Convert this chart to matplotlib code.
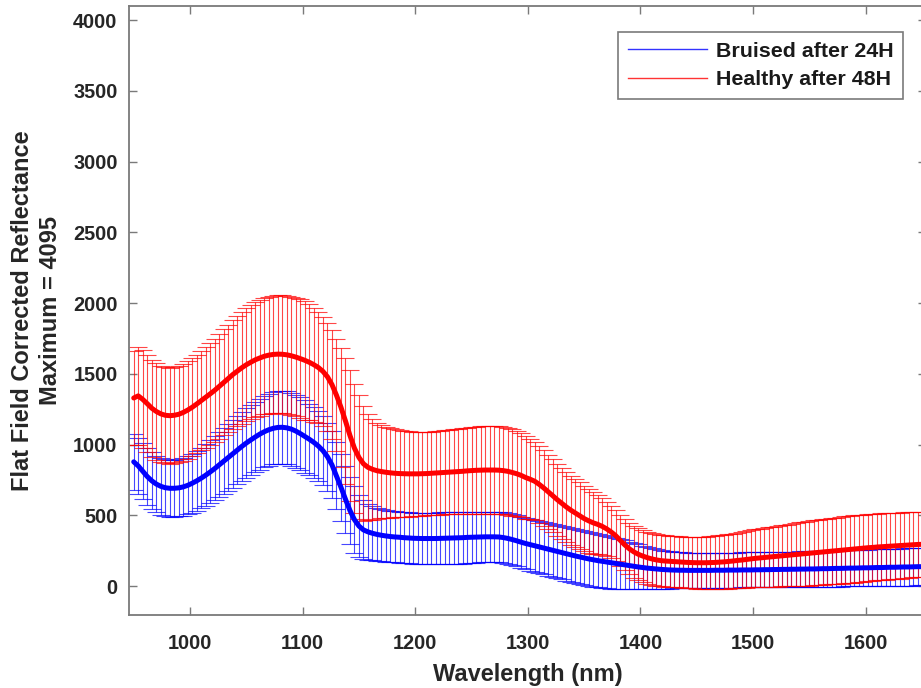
import matplotlib
matplotlib.use("Agg")
import matplotlib.pyplot as plt
from matplotlib.lines import Line2D
import numpy as np

plt.rcParams['font.family'] = ['Liberation Sans', 'DejaVu Sans']
plt.rcParams['font.weight'] = 'bold'

# wavelength bands (nm)
wavelength = [
    950, 954, 958, 962, 966, 970, 974, 978, 982, 986, 990, 994, 998, 1002, 1006, 1010,
    1014, 1018, 1022, 1026, 1030, 1034, 1038, 1042, 1046, 1050, 1054, 1058, 1062, 1066, 1070, 1074,
    1078, 1082, 1086, 1090, 1094, 1098, 1102, 1106, 1110, 1114, 1118, 1122, 1126, 1130, 1134, 1138,
    1142, 1146, 1150, 1154, 1158, 1162, 1166, 1170, 1174, 1178, 1182, 1186, 1190, 1194, 1198, 1202,
    1206, 1210, 1214, 1218, 1222, 1226, 1230, 1234, 1238, 1242, 1246, 1250, 1254, 1258, 1262, 1266,
    1270, 1274, 1278, 1282, 1286, 1290, 1294, 1298, 1302, 1306, 1310, 1314, 1318, 1322, 1326, 1330,
    1334, 1338, 1342, 1346, 1350, 1354, 1358, 1362, 1366, 1370, 1374, 1378, 1382, 1386, 1390, 1394,
    1398, 1402, 1406, 1410, 1414, 1418, 1422, 1426, 1430, 1434, 1438, 1442, 1446, 1450, 1454, 1458,
    1462, 1466, 1470, 1474, 1478, 1482, 1486, 1490, 1494, 1498, 1502, 1506, 1510, 1514, 1518, 1522,
    1526, 1530, 1534, 1538, 1542, 1546, 1550, 1554, 1558, 1562, 1566, 1570, 1574, 1578, 1582, 1586,
    1590, 1594, 1598, 1602, 1606, 1610, 1614, 1618, 1622, 1626, 1630, 1634, 1638, 1642, 1646, 1650]

# bruised after 24H: mean and standard deviation
bruised_mean = [
    879, 850, 812, 775, 745, 722, 706, 696, 692, 692, 695, 702, 713, 728, 745, 764,
    785, 808, 832, 858, 884, 910, 936, 962, 988, 1012, 1034, 1055, 1075, 1092, 1106, 1116,
    1122, 1123, 1119, 1110, 1096, 1078, 1058, 1038, 1016, 990, 958, 915, 858, 780, 700, 615,
    535, 470, 425, 398, 384, 374, 366, 360, 355, 351, 348, 346, 343, 341, 339, 338,
    337, 337, 337, 337, 338, 339, 340, 341, 342, 343, 345, 346, 347, 348, 349, 349,
    349, 348, 344, 338, 330, 321, 311, 302, 294, 286, 278, 270, 262, 254, 246, 238,
    230, 222, 214, 207, 200, 193, 187, 181, 176, 171, 166, 161, 156, 151, 146, 141,
    136, 132, 128, 125, 122, 119, 117, 115, 114, 113, 113, 112, 112, 112, 112, 112,
    112, 113, 113, 113, 114, 114, 114, 115, 115, 115, 116, 116, 117, 117, 118, 118,
    119, 119, 120, 120, 121, 121, 122, 122, 123, 124, 124, 125, 126, 126, 127, 128,
    128, 129, 130, 130, 131, 132, 132, 133, 134, 134, 135, 136, 136, 137, 138, 138]
bruised_std = [
    196, 198, 199, 200, 200, 200, 200, 200, 200, 200, 201, 203, 205, 208, 211, 214,
    218, 222, 226, 230, 234, 237, 240, 243, 245, 247, 249, 250, 251, 252, 253, 254,
    255, 256, 257, 258, 258, 258, 256, 253, 250, 247, 244, 241, 238, 236, 236, 238,
    240, 235, 222, 208, 197, 190, 186, 183, 181, 180, 180, 180, 180, 180, 180, 181,
    181, 182, 182, 183, 183, 183, 183, 183, 183, 183, 182, 181, 180, 179, 178, 178,
    177, 177, 177, 178, 179, 180, 181, 182, 183, 184, 185, 186, 187, 188, 189, 190,
    190, 190, 190, 190, 190, 190, 189, 188, 187, 185, 183, 180, 177, 173, 169, 164,
    159, 154, 149, 144, 140, 137, 134, 132, 130, 128, 127, 126, 125, 125, 124, 124,
    124, 124, 124, 124, 124, 124, 124, 124, 124, 124, 124, 124, 124, 124, 125, 125,
    125, 125, 125, 125, 126, 126, 126, 126, 127, 127, 127, 127, 128, 128, 128, 128,
    129, 129, 129, 129, 130, 130, 130, 130, 131, 131, 131, 131, 132, 132, 132, 132]

# healthy after 48H: mean and standard deviation
healthy_mean = [
    1330, 1345, 1320, 1290, 1258, 1235, 1218, 1208, 1205, 1208, 1215, 1228, 1245, 1265, 1288, 1312,
    1336, 1360, 1385, 1412, 1440, 1468, 1496, 1520, 1544, 1565, 1583, 1600, 1613, 1625, 1633, 1638,
    1640, 1639, 1635, 1628, 1619, 1608, 1596, 1582, 1565, 1545, 1518, 1480, 1425, 1350, 1265, 1168,
    1065, 975, 910, 865, 840, 826, 816, 810, 805, 801, 798, 796, 795, 794, 794, 794,
    795, 796, 798, 800, 802, 804, 806, 808, 810, 812, 815, 817, 819, 820, 821, 821,
    821, 820, 817, 812, 804, 795, 783, 768, 756, 742, 720, 695, 668, 640, 612, 586,
    561, 538, 518, 498, 478, 462, 448, 437, 423, 405, 383, 357, 325, 292, 265, 243,
    226, 213, 202, 193, 186, 181, 178, 176, 174, 172, 170, 168, 167, 166, 166, 166,
    167, 168, 170, 172, 175, 178, 182, 185, 189, 193, 197, 200, 203, 206, 209, 212,
    215, 218, 221, 224, 227, 230, 233, 236, 239, 242, 245, 248, 251, 254, 257, 260,
    263, 266, 269, 272, 274, 277, 279, 281, 283, 285, 287, 289, 291, 293, 295, 296]
healthy_std = [
    334, 345, 346, 345, 344, 342, 341, 340, 340, 340, 340, 341, 343, 346, 349, 352,
    356, 360, 365, 370, 375, 380, 385, 390, 395, 400, 403, 406, 409, 411, 413, 414,
    415, 416, 417, 418, 419, 420, 418, 410, 402, 393, 385, 380, 384, 398, 420, 445,
    460, 455, 438, 405, 375, 355, 340, 328, 322, 317, 312, 308, 305, 302, 299, 297,
    296, 295, 295, 295, 296, 297, 298, 300, 302, 304, 306, 308, 309, 310, 311, 311,
    311, 311, 310, 308, 305, 302, 297, 290, 282, 276, 271, 266, 262, 258, 254, 250,
    247, 244, 240, 236, 232, 225, 217, 208, 200, 193, 187, 182, 180, 180, 181, 182,
    183, 184, 184, 184, 183, 182, 181, 180, 180, 180, 180, 181, 182, 183, 184, 185,
    186, 188, 189, 191, 192, 194, 196, 198, 200, 202, 204, 206, 208, 210, 212, 214,
    216, 218, 220, 222, 224, 226, 228, 229, 230, 231, 232, 233, 234, 235, 236, 236,
    237, 237, 237, 237, 237, 236, 236, 235, 235, 234, 233, 232, 231, 230, 229, 228]

series = [
    ("Bruised after 24H", bruised_mean, bruised_std, "#0000ff"),
    ("Healthy after 48H", healthy_mean, healthy_std, "#ff0000"),
]

fig = plt.figure(figsize=(9.21, 6.88), dpi=100)
ax = fig.add_axes([0.1397, 0.1068, 0.8657, 0.8845])

handles = []
for name, m, s, c in series:
    ax.errorbar(wavelength, m, yerr=s, color=c, lw=0.8, elinewidth=0.8,
                capsize=6.5, capthick=0.8, alpha=0.72, zorder=2)
    handles.append(Line2D([0], [0], color=c, lw=1.0, alpha=0.8, label=name))
for name, m, s, c in series:
    ax.plot(wavelength, m, color=c, lw=3.6, zorder=3, solid_capstyle='round')

ax.set_xlim(945.5, 1653.5)
ax.set_ylim(-200, 4100)
ax.set_xticks([1000, 1100, 1200, 1300, 1400, 1500, 1600])
ax.set_yticks([0, 500, 1000, 1500, 2000, 2500, 3000, 3500, 4000])

gray = "#7a7a7a"
for sp in ax.spines.values():
    sp.set_color(gray)
    sp.set_linewidth(1.3)
ax.tick_params(direction='in', length=6, width=1, color=gray, top=True, right=True,
               labelsize=14.3, labelcolor="#262626")
ax.tick_params(axis='x', pad=14)
ax.tick_params(axis='y', pad=8)

ax.set_xlabel("Wavelength (nm)", fontsize=17, fontweight='bold', color="#262626",
              labelpad=7)
ax.set_ylabel("Flat Field Corrected Reflectance\nMaximum = 4095", fontsize=17,
              fontweight='bold', color="#262626", labelpad=8, linespacing=1.3)

leg = ax.legend(handles=handles, loc='upper right', bbox_to_anchor=(0.9712, 0.957),
                borderaxespad=0, fontsize=15.4, handlelength=3.7, handletextpad=0.4,
                labelspacing=0.45, borderpad=0.45, fancybox=False, framealpha=1)
leg.get_frame().set_edgecolor(gray)
leg.get_frame().set_linewidth(1.2)
for t in leg.get_texts():
    t.set_color("#1a1a1a")

fig.savefig("out.png", dpi=100)
